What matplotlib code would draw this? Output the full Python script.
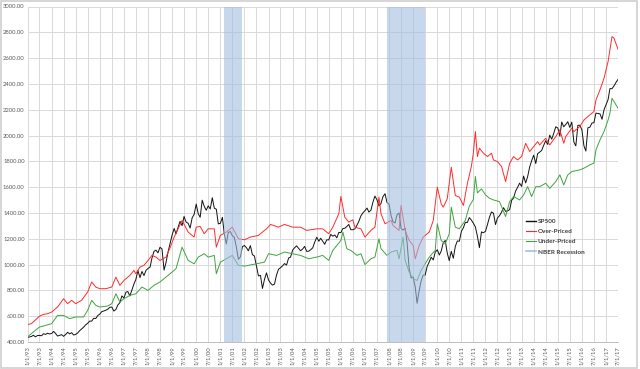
import matplotlib
matplotlib.use("Agg")
import matplotlib.pyplot as plt
import matplotlib.dates as mdates
import pandas as pd
from matplotlib.lines import Line2D
from matplotlib.patches import Rectangle

# --- data ---------------------------------------------------------------
# SP500 month-end closes, plotted from 1993-01-01 (first value = Dec 1992 close)
sp500_vals = [
    436,
    439, 443, 452, 440, 450, 451, 448, 464, 459, 468, 462, 466,
    482, 467, 446, 451, 457, 444, 458, 475, 463, 472, 454, 459,
    470, 487, 501, 515, 533, 545, 562, 562, 584, 582, 605, 616,
    636, 640, 646, 654, 669, 671, 640, 652, 687, 705, 757, 741,
    786, 791, 757, 801, 848, 885, 954, 899, 947, 915, 955, 970,
    980, 1049, 1102, 1112, 1091, 1134, 1121, 957, 1017, 1099, 1164, 1229,
    1280, 1238, 1286, 1335, 1302, 1373, 1329, 1320, 1283, 1363, 1389, 1469,
    1394, 1366, 1499, 1452, 1421, 1455, 1431, 1518, 1437, 1429, 1315, 1320,
    1366, 1240, 1160, 1249, 1256, 1224, 1211, 1134, 1041, 1060, 1139, 1148,
    1130, 1107, 1147, 1077, 1067, 990, 912, 916, 815, 886, 936, 880,
    856, 841, 848, 917, 964, 975, 990, 1008, 996, 1051, 1058, 1112,
    1131, 1145, 1126, 1107, 1121, 1141, 1102, 1104, 1115, 1130, 1174, 1212,
    1181, 1204, 1181, 1157, 1192, 1191, 1234, 1220, 1229, 1207, 1249, 1248,
    1280, 1281, 1295, 1311, 1270, 1270, 1277, 1304, 1336, 1378, 1401, 1418,
    1438, 1407, 1421, 1482, 1531, 1503, 1455, 1474, 1527, 1549, 1481, 1468,
    1379, 1331, 1323, 1386, 1400, 1280, 1267, 1283, 1165, 969, 896, 903,
    826, 700, 798, 873, 919, 919, 987, 1021, 1057, 1036, 1096, 1115,
    1074, 1104, 1169, 1187, 1089, 1031, 1102, 1049, 1141, 1183, 1181, 1258,
    1286, 1327, 1326, 1364, 1345, 1321, 1292, 1219, 1131, 1253, 1247, 1258,
    1312, 1366, 1408, 1398, 1310, 1362, 1379, 1407, 1441, 1412, 1416, 1426,
    1498, 1515, 1569, 1598, 1631, 1606, 1686, 1633, 1682, 1757, 1806, 1848,
    1783, 1859, 1872, 1884, 1924, 1960, 1931, 2003, 1972, 2018, 2068, 2059,
    1995, 2105, 2068, 2086, 2107, 2063, 2104, 1950, 1920, 2079, 2080, 2044,
    1920, 1880, 2060, 2065, 2097, 2099, 2174, 2171, 2168, 2126, 2199, 2239,
    2279, 2364, 2363, 2384, 2412, 2435,
]

over_dates = [
    "1993-01", "1993-03", "1993-07", "1993-09", "1993-11", "1994-01", "1994-04",
    "1994-07", "1994-09", "1994-11", "1995-01", "1995-04", "1995-07", "1995-09",
    "1995-11", "1996-01", "1996-04", "1996-07", "1996-09", "1996-11", "1997-01",
    "1997-04", "1997-06", "1997-07", "1997-09", "1997-11", "1998-01", "1998-03",
    "1998-05", "1998-07", "1998-10", "1998-12", "1999-02", "1999-06", "1999-09",
    "1999-12", "2000-01", "2000-03", "2000-05", "2000-07", "2000-10", "2000-11",
    "2001-01", "2001-04", "2001-07", "2001-10", "2002-01", "2002-04", "2002-08",
    "2002-12", "2003-02", "2003-06", "2003-09", "2004-01", "2004-05", "2004-08",
    "2005-01", "2005-04", "2005-07", "2005-09", "2005-12", "2006-01", "2006-03",
    "2006-05", "2006-07", "2006-08", "2006-11", "2007-01", "2007-04", "2007-06",
    "2007-08", "2007-09", "2007-11", "2008-02", "2008-03", "2008-06", "2008-07",
    "2008-09", "2008-11", "2009-01", "2009-02", "2009-04", "2009-06", "2009-09",
    "2009-11", "2010-01", "2010-03", "2010-04", "2010-06", "2010-08", "2010-10",
    "2010-12", "2011-02", "2011-04", "2011-06", "2011-07", "2011-08", "2011-09",
    "2011-10", "2011-12", "2012-02", "2012-04", "2012-05", "2012-07", "2012-09",
    "2012-11", "2013-01", "2013-03", "2013-05", "2013-07", "2013-09", "2013-11",
    "2014-01", "2014-03", "2014-04", "2014-07", "2014-09", "2014-12", "2015-02",
    "2015-04", "2015-05", "2015-08", "2015-09", "2015-12", "2016-02", "2016-04",
    "2016-07", "2016-08", "2016-10", "2016-12", "2017-01", "2017-02", "2017-04",
    "2017-05", "2017-07",
]
over_vals = [
    535, 542, 600, 614, 619, 632, 671,
    735, 697, 723, 697, 723, 787, 865,
    826, 813, 813, 826, 903, 839, 877,
    916, 955, 929, 981, 994, 1032, 1071,
    1058, 1032, 1058, 1130, 1213, 1342, 1252,
    1213, 1290, 1296, 1239, 1277, 1277, 1135,
    1226, 1252, 1290, 1200, 1192, 1213, 1226,
    1277, 1311, 1290, 1311, 1290, 1290, 1265,
    1277, 1277, 1239, 1290, 1394, 1528, 1368,
    1329, 1347, 1290, 1277, 1213, 1265, 1290,
    1523, 1394, 1316, 1342, 1303, 1265, 1458,
    1265, 1187, 1148, 1045, 1148, 1213, 1252,
    1342, 1600, 1471, 1445, 1510, 1755, 1535,
    1523, 1458, 1626, 1760, 1863, 2031, 1837,
    1902, 1863, 1837, 1863, 1811, 1798, 1760,
    1643, 1785, 1837, 1811, 1837, 1940, 1876,
    1915, 1953, 1927, 1979, 1927, 1992, 2044,
    1940, 1992, 2057, 2031, 2070, 2121, 2147,
    2186, 2276, 2354, 2444, 2509, 2574, 2767,
    2755, 2669,
]

under_dates = [
    "1993-01", "1993-03", "1993-07", "1993-09", "1994-01", "1994-04", "1994-07",
    "1994-10", "1995-01", "1995-05", "1995-07", "1995-09", "1995-11", "1996-01",
    "1996-05", "1996-07", "1996-09", "1996-11", "1997-01", "1997-04", "1997-07",
    "1997-10", "1998-01", "1998-04", "1998-07", "1998-10", "1999-01", "1999-03",
    "1999-06", "1999-09", "1999-12", "2000-02", "2000-05", "2000-07", "2000-10",
    "2000-11", "2001-01", "2001-04", "2001-07", "2001-10", "2002-01", "2002-07",
    "2002-11", "2003-01", "2003-05", "2003-09", "2004-01", "2004-05", "2004-09",
    "2005-01", "2005-04", "2005-07", "2005-09", "2006-01", "2006-02", "2006-04",
    "2006-06", "2006-09", "2006-11", "2007-01", "2007-04", "2007-06", "2007-08",
    "2007-09", "2007-12", "2008-02", "2008-05", "2008-06", "2008-08", "2008-09",
    "2008-11", "2009-01", "2009-03", "2009-05", "2009-07", "2009-09", "2009-12",
    "2010-01", "2010-03", "2010-05", "2010-07", "2010-08", "2010-10", "2010-12",
    "2011-03", "2011-05", "2011-07", "2011-08", "2011-09", "2011-11", "2012-01",
    "2012-03", "2012-05", "2012-08", "2012-11", "2013-01", "2013-03", "2013-06",
    "2013-08", "2013-10", "2013-12", "2014-02", "2014-04", "2014-07", "2014-09",
    "2014-12", "2015-02", "2015-04", "2015-06", "2015-08", "2015-12", "2016-02",
    "2016-05", "2016-07", "2016-08", "2016-10", "2016-12", "2017-02", "2017-03",
    "2017-04", "2017-07",
]
under_vals = [
    439, 465, 516, 524, 542, 606, 606,
    581, 594, 594, 645, 723, 684, 671,
    679, 697, 774, 710, 735, 761, 774,
    826, 800, 839, 865, 903, 942, 968,
    1135, 1032, 1006, 1058, 1084, 1058, 1071,
    929, 1019, 1045, 1071, 994, 988, 1006,
    1019, 1084, 1071, 1097, 1084, 1071, 1045,
    1058, 1071, 1032, 1110, 1187, 1252, 1123,
    1110, 1071, 1084, 1000, 1045, 1058, 1200,
    1123, 1071, 1097, 1110, 1045, 1213, 1032,
    942, 890, 877, 955, 1006, 1058, 1110,
    1316, 1187, 1161, 1239, 1445, 1290, 1277,
    1342, 1452, 1504, 1683, 1555, 1587, 1540,
    1514, 1501, 1488, 1372, 1488, 1527, 1501,
    1540, 1604, 1527, 1604, 1604, 1630, 1591,
    1643, 1695, 1617, 1695, 1721, 1734, 1747,
    1773, 1786, 1889, 1966, 2031, 2121, 2173,
    2289, 2212,
]

recessions = [("2001-03-01", "2001-11-30"), ("2007-12-01", "2009-06-30")]

labels = ["SP500", "Over-Priced", "Under-Priced", "NBER Recession"]

# --- style --------------------------------------------------------------
GRID = "#d9d9d9"
TXT = "#595959"
FONT = ["Lato", "DejaVu Sans"]
plt.rcParams["font.family"] = FONT

fig = plt.figure(figsize=(6.4, 3.69), dpi=100)
fig.patch.set_facecolor("white")
ax = fig.add_axes([27.5 / 640, 1 - 342 / 369, (618 - 27.5) / 640, (342 - 6.5) / 369])

sp_dates = pd.date_range("1993-01-01", periods=len(sp500_vals), freq="MS")
ax.plot(sp_dates, sp500_vals, color="#111111", lw=0.7, zorder=3)
ax.plot(pd.to_datetime(over_dates), over_vals, color="#ff2b2b", lw=0.7, zorder=3)
ax.plot(pd.to_datetime(under_dates), under_vals, color="#3ea43e", lw=0.7, zorder=3)

for start, end in recessions:
    ax.axvspan(pd.Timestamp(start), pd.Timestamp(end), color="#a3bde0",
               alpha=0.6, lw=0, zorder=4)

ax.set_xlim(pd.Timestamp("1993-01-01"), pd.Timestamp("2017-07-01"))
ax.set_ylim(400, 3000)

xticks = pd.date_range("1993-01-01", "2017-07-01", freq="6MS")
ax.set_xticks(xticks)
ax.set_xticklabels([f"{d.month}/1/{d.year % 100:02d}" for d in xticks],
                   rotation=90, fontsize=4.2, color=TXT)
yticks = list(range(400, 3001, 200))
ax.set_yticks(yticks)
ax.set_yticklabels([f"{v:.2f}" for v in yticks], fontsize=4.2, color=TXT)
ax.tick_params(length=0, pad=2)
ax.tick_params(axis="x", pad=3)

ax.grid(True, color=GRID, lw=0.7, zorder=0)
ax.set_axisbelow(True)
for s in ["top", "left", "right"]:
    ax.spines[s].set_visible(False)
ax.spines["bottom"].set_color("#bfbfbf")
ax.spines["bottom"].set_linewidth(0.7)

handles = [
    Line2D([], [], color="#111111", lw=1.0),
    Line2D([], [], color="#ff2b2b", lw=0.8),
    Line2D([], [], color="#3ea43e", lw=0.8),
    Line2D([], [], color="#a3bde0", lw=1.2),
]
leg = fig.legend(handles, labels, loc="center left",
                 bbox_to_anchor=(523 / 640, 1 - 236.5 / 369),
                 frameon=False, fontsize=4.6, handlelength=1.5,
                 handletextpad=0.3, labelspacing=0.75, borderpad=0,
                 prop={"weight": "bold", "size": 4.6})
for t in leg.get_texts():
    t.set_color("#404040")

# light grey frame round the whole chart
fig.add_artist(Rectangle((0.002, 0.004), 0.994, 0.992, transform=fig.transFigure,
                         fill=False, edgecolor="#d0d0d0", lw=1.2))

fig.savefig("out.png", dpi=100, facecolor="white")
